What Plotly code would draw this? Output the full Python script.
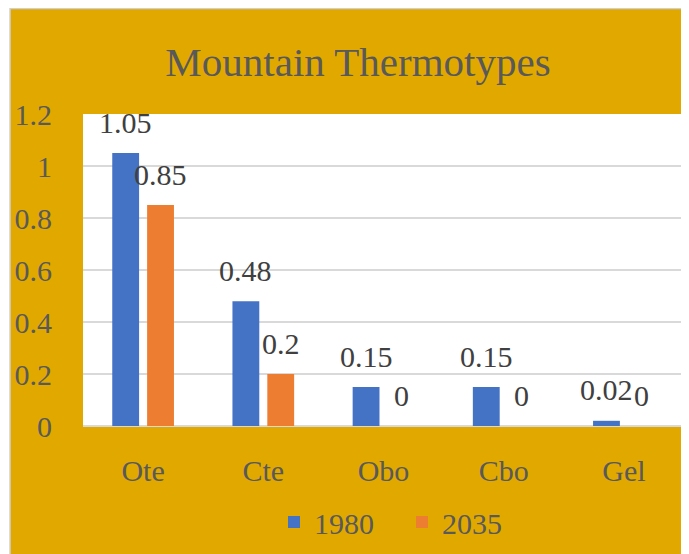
import plotly.graph_objects as go

categories = ["Ote", "Cte", "Obo", "Cbo", "Gel"]
values_1980 = [1.05, 0.48, 0.15, 0.15, 0.02]
values_2035 = [0.85, 0.2, 0, 0, 0]
series_names = ["1980", "2035"]
y_ticks = [0, 0.2, 0.4, 0.6, 0.8, 1, 1.2]
y_tick_labels = ["0", "0.2", "0.4", "0.6", "0.8", "1", "1.2"]

BLUE = "#4472C4"
ORANGE = "#ED7D31"
GOLD = "#E1A900"
FONT = "Liberation Serif, Times New Roman, serif"

# page places the figure at (8, 8); figure sized to fill the rest of the window
W, H = 681, 546
ML, MR, MT, MB = 75, 5, 106, 128
PW = W - ML - MR
PH = H - MT - MB

fig = go.Figure()
for name, vals, col in [(series_names[0], values_1980, BLUE), (series_names[1], values_2035, ORANGE)]:
    fig.add_trace(go.Bar(x=categories, y=vals, name=name, marker=dict(color=col, line=dict(width=0))))

annotations = []
for k, vals in enumerate([values_1980, values_2035]):
    shift = -17.5 if k == 0 else 17.5
    for c, v in zip(categories, vals):
        annotations.append(dict(
            x=c, y=v, xref="x", yref="y", text=f"{v:g}", showarrow=False,
            xshift=shift, yshift=31, yanchor="middle", xanchor="center",
            font=dict(family=FONT, size=30, color="#404040")))

def px_to_paper_x(px):
    return (px - ML) / PW

def px_to_paper_y(py):
    return (H - MB - py) / PH

shapes = [
    dict(type="rect", xref="paper", yref="paper", x0=px_to_paper_x(-5), x1=px_to_paper_x(2),
         y0=px_to_paper_y(H + 5), y1=px_to_paper_y(-5), fillcolor="white", line=dict(width=0), layer="above"),
    dict(type="line", xref="paper", yref="paper", x0=px_to_paper_x(2), x1=px_to_paper_x(2),
         y0=px_to_paper_y(H + 5), y1=px_to_paper_y(0), line=dict(color="#D0D0D0", width=1.5), layer="above"),
    dict(type="line", xref="paper", yref="paper", x0=px_to_paper_x(2), x1=px_to_paper_x(W + 5),
         y0=px_to_paper_y(0.5), y1=px_to_paper_y(0.5), line=dict(color="#D0D0D0", width=1.5), layer="above"),
]

fig.update_layout(
    width=W, height=H,
    margin=dict(l=ML, r=MR, t=MT, b=MB),
    paper_bgcolor=GOLD, plot_bgcolor="white",
    barmode="group", bargap=0.42, bargroupgap=0.23,
    title=dict(text="Mountain Thermotypes", x=350 / W, xref="container", xanchor="center",
               y=1 - 54 / H, yref="container", yanchor="middle",
               font=dict(family=FONT, size=41, color="#595959")),
    font=dict(family=FONT, size=30, color="#595959"),
    showlegend=True,
    legend=dict(orientation="h", x=px_to_paper_x(266), xanchor="left",
                y=px_to_paper_y(514), yanchor="middle",
                font=dict(family=FONT, size=30, color="#595959"),
                bgcolor="rgba(0,0,0,0)", itemwidth=30, traceorder="normal",
                entrywidth=83, entrywidthmode="pixels"),
    annotations=annotations,
    shapes=shapes,
)
fig.update_yaxes(range=[0, 1.2], tickvals=y_ticks, ticktext=y_tick_labels,
                 showgrid=True, gridcolor="#D9D9D9", gridwidth=1.5,
                 zeroline=True, zerolinecolor="#D9D9D9", zerolinewidth=1.5,
                 ticks="outside", ticklen=24, tickcolor="rgba(0,0,0,0)",
                 tickfont=dict(family=FONT, size=30, color="#595959"), fixedrange=True)
fig.update_xaxes(showgrid=False, showline=False, ticks="outside", ticklen=18,
                 tickcolor="rgba(0,0,0,0)",
                 tickfont=dict(family=FONT, size=30, color="#595959"), fixedrange=True)

fig.write_html("out.html")
